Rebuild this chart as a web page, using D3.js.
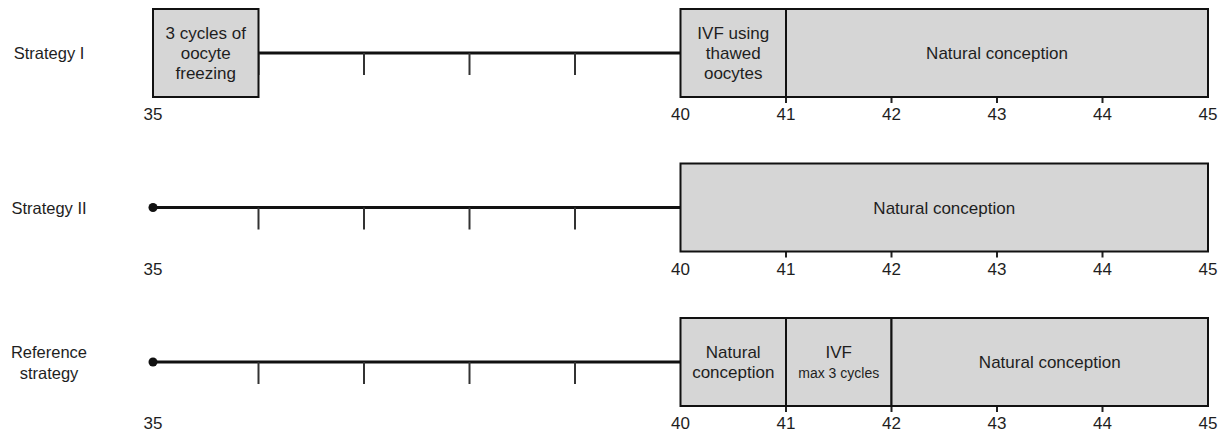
<!DOCTYPE html>
<html>
<head>
<meta charset="utf-8">
<script src="https://cdn.jsdelivr.net/npm/d3@7/dist/d3.min.js"></script>
<style>
  body { margin: 0; background: #fff; }
  text { font-family: "Liberation Sans", Arial, Helvetica, sans-serif; fill: #1e1e1e; }
</style>
</head>
<body>
<div class="canvas"></div>
<script>
// data
const strategies = ['Strategy I', 'Strategy II', 'Reference strategy'];
const segStart = [[35, 40, 41], [40], [40, 41, 42]];
const segEnd = [[36, 41, 45], [45], [41, 42, 45]];
// '|' splits lines, '~' marks a smaller sub line
const segLabels = [
    ['3 cycles of|oocyte|freezing', 'IVF using|thawed|oocytes', 'Natural conception'],
    ['Natural conception'],
    ['Natural|conception', 'IVF|~max 3 cycles', 'Natural conception']
];
const hasDot = [false, true, true];
const ageLabels = [35, 40, 41, 42, 43, 44, 45];
const lineTicks = [36, 37, 38, 39];
const boxTicks = [41, 42, 43, 44];

const width = 1223, height = 435;

const svg = d3.select('.canvas')
    .append('svg')
    .attr('width', width)
    .attr('height', height);

const x = d3.scaleLinear()
    .domain([35, 45])
    .range([153, 1208]);

// row centre lines
const y = d3.scalePoint()
    .domain(strategies)
    .range([53, 362]);

const boxHalf = 44;

strategies.forEach((name, i) => {
    const g = svg.append('g');
    const cy = y(name);

    // row label
    const lab = g.append('text')
        .attr('text-anchor', 'middle')
        .style('font-size', '16.5px');
    const words = name === 'Reference strategy' ? ['Reference', 'strategy'] : [name];
    words.forEach((w, k) => {
        lab.append('tspan')
            .attr('x', 49)
            .attr('y', cy + 6 + (k - (words.length - 1) / 2) * 21)
            .text(w);
    });

    // main time line
    g.append('line')
        .attr('x1', x(35)).attr('x2', x(40))
        .attr('y1', cy).attr('y2', cy)
        .attr('stroke', '#111')
        .attr('stroke-width', 3);

    // ticks under the line
    g.selectAll('.lt')
        .data(lineTicks)
        .enter().append('line')
        .attr('x1', d => x(d)).attr('x2', d => x(d))
        .attr('y1', cy).attr('y2', cy + 22)
        .attr('stroke', '#333')
        .attr('stroke-width', 2);

    if (hasDot[i]) {
        g.append('circle')
            .attr('cx', x(35)).attr('cy', cy)
            .attr('r', 4.5)
            .attr('fill', '#111');
    }

    // small ticks under the boxes
    g.selectAll('.bt')
        .data(boxTicks)
        .enter().append('line')
        .attr('x1', d => x(d)).attr('x2', d => x(d))
        .attr('y1', cy + boxHalf).attr('y2', cy + boxHalf + 6)
        .attr('stroke', '#222')
        .attr('stroke-width', 2);

    // boxes
    const segs = segStart[i].map((s, k) => ({ s: s, e: segEnd[i][k], label: segLabels[i][k] }));

    g.selectAll('rect')
        .data(segs)
        .enter().append('rect')
        .attr('x', d => x(d.s))
        .attr('y', cy - boxHalf)
        .attr('width', d => x(d.e) - x(d.s))
        .attr('height', boxHalf * 2)
        .attr('fill', '#d6d6d6')
        .attr('stroke', '#111')
        .attr('stroke-width', 2);

    segs.forEach(d => {
        const lines = d.label.split('|');
        const cx = (x(d.s) + x(d.e)) / 2;
        const t = g.append('text')
            .attr('text-anchor', 'middle');
        lines.forEach((ln, k) => {
            const small = ln.startsWith('~');
            t.append('tspan')
                .attr('x', cx)
                .attr('y', cy + 6 + (k - (lines.length - 1) / 2) * 20)
                .style('font-size', small ? '14px' : '17px')
                .text(small ? ln.slice(1) : ln);
        });
    });

    // age labels
    g.selectAll('.al')
        .data(ageLabels)
        .enter().append('text')
        .attr('x', d => x(d))
        .attr('y', cy + boxHalf + 23)
        .attr('text-anchor', 'middle')
        .style('font-size', '17px')
        .text(d => d);
});
</script>
</body>
</html>
